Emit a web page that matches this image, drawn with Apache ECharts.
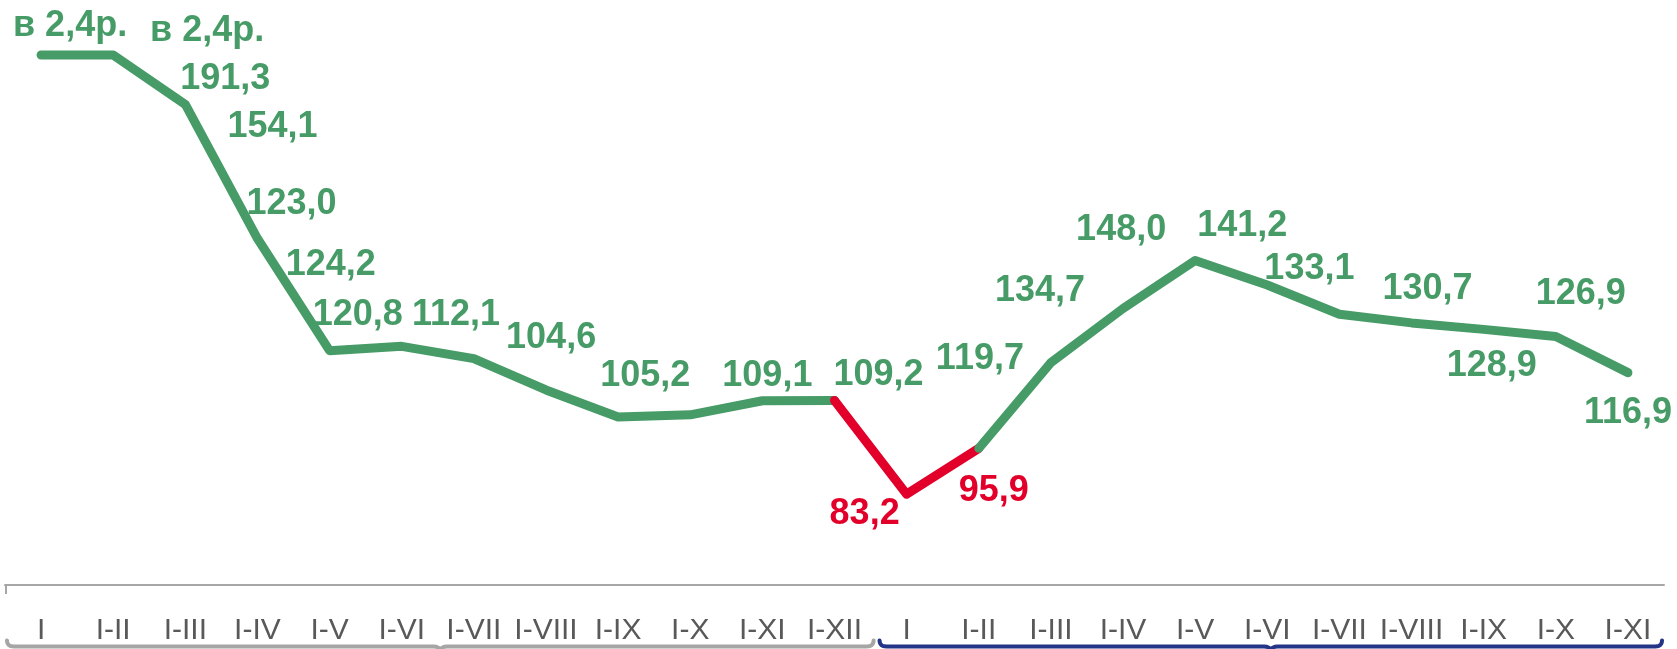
<!DOCTYPE html>
<html>
<head>
<meta charset="utf-8">
<script src="https://cdn.jsdelivr.net/npm/echarts@6/dist/echarts.min.js"></script>
<style>
html,body{margin:0;padding:0;background:#ffffff;}
#c{width:1677px;height:649px;}
</style>
</head>
<body>
<div id="c"></div>
<script>
// ---- data ----
const categories = ['I','I-II','I-III','I-IV','I-V','I-VI','I-VII','I-VIII','I-IX','I-X','I-XI','I-XII',
                    'I','I-II','I-III','I-IV','I-V','I-VI','I-VII','I-VIII','I-IX','I-X','I-XI'];
// first two points ("в 2,4р.") are drawn at the chart's top cap
const values = [205, 205, 191.3, 154.1, 123.0, 124.2, 120.8, 112.1, 104.6, 105.2, 109.1, 109.2,
                83.2, 95.9, 119.7, 134.7, 148.0, 141.2, 133.1, 130.7, 128.9, 126.9, 116.9];
const valueLabels = ['в 2,4р.', 'в 2,4р.', '191,3', '154,1', '123,0', '124,2', '120,8', '112,1', '104,6', '105,2', '109,1', '109,2',
                     '83,2', '95,9', '119,7', '134,7', '148,0', '141,2', '133,1', '130,7', '128,9', '126,9', '116,9'];
const redFrom = 11, redTo = 13;      // decline segment drawn in red
const redLabels = [12, 13];

// ---- label placement (styling, px) ----
const labelOffsets = [[29,-29],[94,-24],[40,-25],[15,-111],[-38,-147],[-71,-81],[-116,-44],[-90,-75],[-67,-79],[-45,-39],[5,-25],[44,-25],
                      [-42,20],[15,43],[-71,-3],[-83,-17],[-74,-30],[-25,-59],[-30,-45],[16,-34],[8,37],[25,-43],[0,40]];

const GREEN = '#469B67', RED = '#E2002A';
const FONT = "'Liberation Sans', Arial, sans-serif";

function makeSeries(from, to, color, z, labelIdx) {
  const data = values.map((v, i) => {
    if (i < from || i > to) return null;
    const show = labelIdx.indexOf(i) >= 0;
    return {
      value: v,
      label: {
        show: show,
        offset: labelOffsets[i],
        color: redLabels.indexOf(i) >= 0 ? RED : GREEN
      }
    };
  });
  return {
    type: 'line',
    data: data,
    z: z,
    connectNulls: false,
    symbol: 'circle',
    symbolSize: 2,
    showSymbol: true,
    itemStyle: { color: color },
    lineStyle: { color: color, width: 9, cap: 'round', join: 'round' },
    label: {
      show: false,
      position: 'inside',
      fontSize: 36,
      fontWeight: 'bold',
      fontFamily: FONT,
      formatter: p => valueLabels[p.dataIndex]
    },
    emphasis: { disabled: true },
    silent: true
  };
}

const range = (a, b) => { const r = []; for (let i = a; i <= b; i++) r.push(i); return r; };

const chart = echarts.init(document.getElementById('c'), null, { renderer: 'canvas' });
chart.setOption({
  animation: false,
  backgroundColor: '#ffffff',
  grid: { left: 5, right: 13, top: 37, bottom: 64, containLabel: false },
  xAxis: {
    type: 'category',
    data: categories,
    boundaryGap: true,
    axisLine: { show: true, lineStyle: { color: '#A6A6A6', width: 2 } },
    axisTick: { show: false },
    axisLabel: { interval: 0, color: '#595959', fontSize: 30, fontFamily: FONT, margin: 31 },
    splitLine: { show: false }
  },
  yAxis: { type: 'value', min: 58, max: 210, show: false, splitLine: { show: false } },
  series: [
    makeSeries(0, redFrom, GREEN, 2, range(0, redFrom)),
    makeSeries(redFrom, redTo, RED, 3, [12]),
    makeSeries(redTo, values.length - 1, GREEN, 4, range(redTo, values.length - 1))
  ]
});

// period brackets under the axis labels (drawn as sampled polylines)
function quad(p0, p1, p2, n) {
  const pts = [];
  for (let k = 0; k <= n; k++) {
    const t = k / n, a = (1 - t) * (1 - t), b = 2 * (1 - t) * t, c = t * t;
    pts.push([a * p0[0] + b * p1[0] + c * p2[0], a * p0[1] + b * p1[1] + c * p2[1]]);
  }
  return pts;
}
function bracketPoints(x0, x1, y) {
  const m = (x0 + x1) / 2;
  let pts = [];
  pts = pts.concat(quad([x0, y - 6], [x0, y], [x0 + 7, y], 6));
  pts = pts.concat(quad([m - 7, y], [m, y], [m, y + 5], 4));
  pts = pts.concat(quad([m, y + 5], [m, y], [m + 7, y], 4));
  pts = pts.concat(quad([x1 - 7, y], [x1, y], [x1, y - 6], 6));
  return pts;
}
const px = i => chart.convertToPixel({ xAxisIndex: 0 }, i);
const w = px(1) - px(0);
const left = px(0) - w / 2, mid = px(11) + w / 2, right = px(values.length - 1) + w / 2;
const axisY = chart.getHeight() - 64;
const by = 646.5;
chart.setOption({
  graphic: [
    { type: 'polyline', shape: { points: bracketPoints(left + 2, mid + 3, by) }, style: { fill: null, stroke: '#A6A6A6', lineWidth: 4, lineCap: 'round', lineJoin: 'round' } },
    { type: 'polyline', shape: { points: bracketPoints(mid + 9, right - 2, by) }, style: { fill: null, stroke: '#233587', lineWidth: 4, lineCap: 'round', lineJoin: 'round' } },
    { type: 'line', shape: { x1: left + 1, y1: axisY, x2: left + 1, y2: axisY + 9 }, style: { stroke: '#A6A6A6', lineWidth: 2 } }
  ]
});
</script>
</body>
</html>
